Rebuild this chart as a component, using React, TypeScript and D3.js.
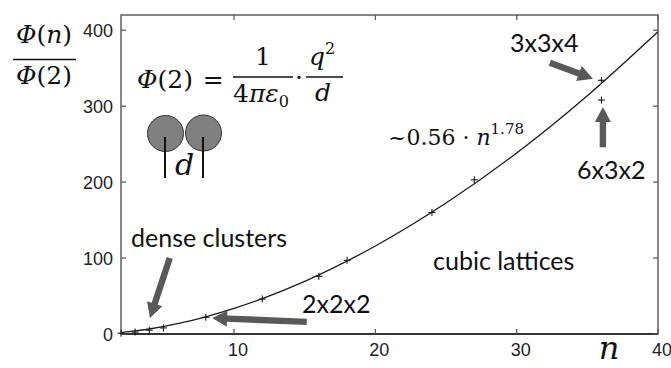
import React from 'react';
import * as d3 from 'd3';

// measured points: n atoms vs Phi(n)/Phi(2)
const clusterN = [2, 3, 4, 5, 8, 12, 16, 18, 24, 27, 36, 36];
const clusterPhi = [1, 2.5, 5, 8, 22, 46, 76, 97, 160, 203, 334, 308];

// fit curve ~0.56 n^1.78, read at a few n
const fitN = [2, 3, 4, 6, 8, 10, 12, 15, 20, 25, 30, 35, 40];
const fitPhi = [1.9, 4.0, 6.6, 13.6, 22.7, 33.7, 46.7, 69.4, 115.9, 172.4, 238.4, 313.8, 398];

const xTicks = [10, 20, 30, 40];
const yTicks = [0, 100, 200, 300, 400];

// annotation arrows in data units: tail -> tip
const arrows = [
  { from: [5.45, 100], to: [4.05, 21] },
  { from: [15.15, 16], to: [8.45, 21] },
  { from: [32.35, 357], to: [35.4, 336] },
  { from: [36.1, 246], to: [36.1, 299] },
];

const W = 671;
const H = 368;
const margin = { top: 15, right: 13, bottom: 34, left: 121 };

const serif = '"DejaVu Serif", "Liberation Serif", serif';
const sans = 'Lato, "Open Sans", sans-serif';
const tickFont = '"Liberation Sans", Arial, sans-serif';

const arrowPath = (x1: number, y1: number, x2: number, y2: number) => {
  const dx = x2 - x1;
  const dy = y2 - y1;
  const len = Math.sqrt(dx * dx + dy * dy);
  const ux = dx / len;
  const uy = dy / len;
  const px = -uy;
  const py = ux;
  const sw = 3.2; // half shaft width
  const hw = 8; // half head width
  const hl = 15; // head length
  const bx = x2 - ux * hl;
  const by = y2 - uy * hl;
  const pts = [
    [x1 + px * sw, y1 + py * sw],
    [bx + px * sw, by + py * sw],
    [bx + px * hw, by + py * hw],
    [x2, y2],
    [bx - px * hw, by - py * hw],
    [bx - px * sw, by - py * sw],
    [x1 - px * sw, y1 - py * sw],
  ];
  return 'M' + pts.map(p => p.join(',')).join('L') + 'Z';
};

const App: React.FC = () => {
  const x = d3.scaleLinear().domain([2, 40]).range([margin.left, W - margin.right]);
  const y = d3.scaleLinear().domain([0, 420]).range([H - margin.bottom, margin.top]);
  const x0 = x.range()[0];
  const x1 = x.range()[1];
  const y0 = y.range()[0];
  const y1 = y.range()[1];

  const fitLine = d3
    .line<number>()
    .x((d, i) => x(fitN[i]))
    .y(d => y(d))
    .curve(d3.curveMonotoneX);

  const axisColor = '#555';
  const tick = 5;

  return (
    <svg width={W} height={H} style={{ position: 'absolute', left: 0, top: 0, background: '#fff' }}>
      {/* frame */}
      <rect x={x0} y={y1} width={x1 - x0} height={y0 - y1} fill="none" stroke={axisColor} strokeWidth={1.4} />
      <line x1={x0} x2={x1} y1={y0} y2={y0} stroke="#333" strokeWidth={1.8} />

      {/* y ticks left and right */}
      {yTicks.map(t => (
        <g key={'y' + t}>
          <line x1={x0} x2={x0 + tick} y1={y(t)} y2={y(t)} stroke={axisColor} strokeWidth={1.2} />
          <line x1={x1} x2={x1 - tick} y1={y(t)} y2={y(t)} stroke={axisColor} strokeWidth={1.2} />
          <text x={x0 - 8} y={y(t) + 7} textAnchor="end" fontFamily={tickFont} fontSize={18} fill="#222">
            {t}
          </text>
        </g>
      ))}

      {/* x ticks bottom and top */}
      {xTicks.map(t => (
        <g key={'x' + t}>
          <line x1={x(t)} x2={x(t)} y1={y0} y2={y0 - tick} stroke={axisColor} strokeWidth={1.2} />
          <line x1={x(t)} x2={x(t)} y1={y1} y2={y1 + tick} stroke={axisColor} strokeWidth={1.2} />
          <text x={x(t) + 4} y={y0 + 22} textAnchor="middle" fontFamily={tickFont} fontSize={18} fill="#222">
            {t}
          </text>
        </g>
      ))}

      {/* fit curve */}
      <path d={fitLine(fitPhi) || ''} fill="none" stroke="#1a1a1a" strokeWidth={1.3} />

      {/* data markers */}
      {clusterN.map((n, i) => (
        <g key={'p' + i} stroke="#1a1a1a" strokeWidth={1.1}>
          <line x1={x(n) - 3.5} x2={x(n) + 3.5} y1={y(clusterPhi[i])} y2={y(clusterPhi[i])} />
          <line x1={x(n)} x2={x(n)} y1={y(clusterPhi[i]) - 3.5} y2={y(clusterPhi[i]) + 3.5} />
        </g>
      ))}

      {/* arrows */}
      {arrows.map((a, i) => (
        <path
          key={'a' + i}
          d={arrowPath(x(a.from[0]), y(a.from[1]), x(a.to[0]), y(a.to[1]))}
          fill="#595959"
        />
      ))}

      {/* annotations */}
      <g fontFamily={sans} fontSize={25} fill="#111">
        <text x={131} y={247}>dense clusters</text>
        <text x={433} y={270}>cubic lattices</text>
        <text x={302} y={313}>2x2x2</text>
        <text x={510} y={52}>3x3x4</text>
        <text x={577} y={179}>6x3x2</text>
      </g>

      {/* fit label */}
      <text x={388} y={145} fontFamily={serif} fontSize={22} fill="#111">
        ~0.56 · <tspan fontStyle="italic">n</tspan>
        <tspan fontSize={15} dy={-11}>1.78</tspan>
      </text>

      {/* y axis label */}
      <g fontFamily={serif} fontSize={25} fill="#111" textAnchor="middle">
        <text x={44} y={43}>
          <tspan fontStyle="italic">Φ</tspan>(<tspan fontStyle="italic">n</tspan>)
        </text>
        <line x1={13} x2={76} y1={59.5} y2={59.5} stroke="#111" strokeWidth={1.3} />
        <text x={44} y={84}>
          <tspan fontStyle="italic">Φ</tspan>(2)
        </text>
      </g>

      {/* Phi(2) formula */}
      <g fontFamily={serif} fontSize={25} fill="#111">
        <text x={137} y={88}>
          <tspan fontStyle="italic">Φ</tspan>(2) <tspan dx={2}>=</tspan>
        </text>
        <text x={263} y={65} textAnchor="middle">1</text>
        <line x1={233} x2={293} y1={77} y2={77} stroke="#111" strokeWidth={1.3} />
        <text x={261} y={102} textAnchor="middle">
          4<tspan fontStyle="italic">πε</tspan>
          <tspan fontSize={16} dy={5}>0</tspan>
        </text>
        <text x={299} y={86} textAnchor="middle">·</text>
        <text x={322} y={65} textAnchor="middle">
          <tspan fontStyle="italic">q</tspan>
          <tspan fontSize={16} dy={-11}>2</tspan>
        </text>
        <line x1={306} x2={343} y1={77} y2={77} stroke="#111" strokeWidth={1.3} />
        <text x={323} y={101} textAnchor="middle" fontStyle="italic">d</text>
      </g>

      {/* two atoms with distance d */}
      <circle cx={165.5} cy={133.5} r={18} fill="#808080" stroke="#333" strokeWidth={1} />
      <circle cx={203.5} cy={133} r={18} fill="#808080" stroke="#333" strokeWidth={1} />
      <line x1={165} x2={165} y1={137} y2={178} stroke="#111" strokeWidth={2} />
      <line x1={203} x2={203} y1={137} y2={178} stroke="#111" strokeWidth={2} />
      <text x={184.5} y={175} textAnchor="middle" fontFamily={serif} fontStyle="italic" fontSize={30} fill="#111">d</text>

      {/* x axis label */}
      <text x={609} y={359} textAnchor="middle" fontFamily={serif} fontStyle="italic" fontSize={32} fill="#111">n</text>
    </svg>
  );
};

export default App;
